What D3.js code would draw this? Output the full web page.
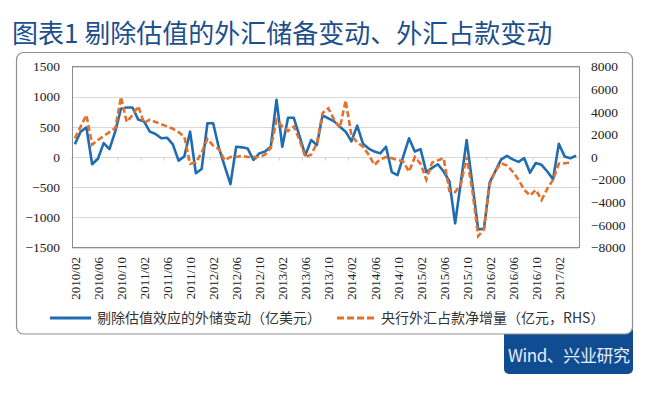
<!DOCTYPE html>
<html>
<head>
<meta charset="utf-8">
<script src="https://cdn.jsdelivr.net/npm/d3@7"></script>
<style>
  body { margin: 0; background: #fff; }
  svg { display: block; }
</style>
</head>
<body>
<div id="chartArea"></div>
<script>
// data, monthly from 2010/02
var titleText = "图表1 剔除估值的外汇储备变动、外汇占款变动";
var sourceText = "Wind、兴业研究";
var seriesNames = ["剔除估值效应的外储变动（亿美元）", "央行外汇占款净增量（亿元，RHS）"];

// 剔除估值效应的外储变动 (left axis, 亿美元)
var reserveChange = [
  210, 420, 490, -120, -30, 230, 130, 420, 800, 820,
  820, 620, 590, 420, 380, 310, 320, 210, -60, 10,
  420, -270, -200, 560, 560, 150, -150, -450, 170, 160,
  140, -50, 60, 90, 170, 950, 170, 650, 650, 340,
  30, 280, 200, 690, 640, 590, 500, 420, 260, 520,
  220, 140, 90, 60, 170, -250, -300, 10, 310, 90,
  130, -250, -180, -120, -240, -400, -1100, -410, 280, -450,
  -1200, -1190, -420, -230, -40, 20, -40, -80, -20, -260,
  -100, -130, -240, -370, 220, 10, -20, 20
];

// 央行外汇占款净增量 (right axis, 亿元)
var fxPurchase = [
  1650, 2700, 3700, 1100, 1500, 1850, 2200, 2550, 5300, 3100,
  3700, 4500, 3000, 3300, 3100, 2900, 2700, 2500, 2200, 1800,
  -600, -500, 400, 1600, 1000, 700, -300, 0, 0, 100,
  0, 0, 0, 200, 800, 3300, 2700, 2300, 2700, 1500,
  0, 200, 1200, 3900, 4300, 3300, 2600, 5000, 1900, 1300,
  900, 200, -700, -200, 0, -100, -250, -400, -1300, 0,
  -600, -2000, -500, -300, -100, -3000, -3100, -2400, 0, -3000,
  -7000, -6400, -2400, -1200, -550, -750, -1300, -2000, -2900, -3400,
  -2900, -3800, -2800, -2000, -600, -550, -500
];

var leftTicks = [-1500, -1000, -500, 0, 500, 1000, 1500];
var rightTicks = [-8000, -6000, -4000, -2000, 0, 2000, 4000, 6000, 8000];
var xTickLabels = ["2010/02", "2010/06", "2010/10", "2011/02", "2011/06", "2011/10",
  "2012/02", "2012/06", "2012/10", "2013/02", "2013/06", "2013/10", "2014/02",
  "2014/06", "2014/10", "2015/02", "2015/06", "2015/10", "2016/02", "2016/06",
  "2016/10", "2017/02"];

var fmt = d3.timeFormat("%Y/%m");
var months = d3.timeMonth.range(new Date(2010, 1, 1), new Date(2017, 5, 1)).map(fmt);

var W = 649, H = 394;
var plot = {left: 72, right: 579, top: 66.5, bottom: 247.5};
var blue = "#1f6cb0", orange = "#e4702c";
var serif = "Liberation Serif, Times New Roman, DejaVu Serif, serif";
var cjk = "Noto Sans CJK SC, sans-serif";

var svg = d3.select("#chartArea").append("svg")
    .attr("width", W)
    .attr("height", H);

var x = d3.scaleBand().domain(months).range([plot.left, plot.right]);
var xc = d => x(d) + x.bandwidth() / 2;
var yL = d3.scaleLinear().domain([-1500, 1500]).range([plot.bottom, plot.top]);
var yR = d3.scaleLinear().domain([-8000, 8000]).range([plot.bottom, plot.top]);

// title
svg.append("text")
    .attr("x", 12)
    .attr("y", 43)
    .attr("font-family", cjk)
    .attr("font-size", 26)
    .attr("fill", "#1d4f8c")
    .text(titleText);

// source box
svg.append("rect")
    .attr("x", 504).attr("y", 326)
    .attr("width", 129).attr("height", 48)
    .attr("rx", 5)
    .attr("fill", "#0f4c92");
svg.append("text")
    .attr("x", 569).attr("y", 356)
    .attr("dy", "0.35em")
    .attr("text-anchor", "middle")
    .attr("font-family", cjk)
    .attr("font-size", 17)
    .attr("textLength", 122)
    .attr("fill", "#e8eef7")
    .text(sourceText);

// outer frame
svg.append("rect")
    .attr("x", 16.5).attr("y", 52.5)
    .attr("width", 616).attr("height", 281.5)
    .attr("rx", 7)
    .attr("fill", "#fff")
    .attr("stroke", "#8f8f8f")
    .attr("stroke-width", 1.2);

// gridlines
svg.append("g").selectAll("line")
    .data(leftTicks)
    .enter().append("line")
    .attr("x1", plot.left).attr("x2", plot.right)
    .attr("y1", d => Math.round(yL(d)) + 0.5)
    .attr("y2", d => Math.round(yL(d)) + 0.5)
    .attr("stroke", "#d9d9d9")
    .attr("stroke-width", 1);

// small tick marks on the zero line every 4 months
svg.append("g").selectAll("line")
    .data(months.filter((d, i) => i % 4 == 0))
    .enter().append("line")
    .attr("x1", d => x(d)).attr("x2", d => x(d))
    .attr("y1", Math.round(yL(0)) + 0.5)
    .attr("y2", Math.round(yL(0)) + 3.5)
    .attr("stroke", "#d0d0d0");

// plot area border
svg.append("rect")
    .attr("x", plot.left + 0.5).attr("y", plot.top)
    .attr("width", plot.right - plot.left)
    .attr("height", plot.bottom - plot.top)
    .attr("fill", "none")
    .attr("stroke", "#8c8c8c")
    .attr("stroke-width", 1);

// axes
var leftAxis = svg.append("g")
    .attr("transform", "translate(" + (plot.left - 12) + ",0)")
    .call(d3.axisLeft(yL).tickValues(leftTicks).tickSize(0).tickPadding(0).tickFormat(d3.format("d")));
var rightAxis = svg.append("g")
    .attr("transform", "translate(" + (plot.right + 12) + ",0)")
    .call(d3.axisRight(yR).tickValues(rightTicks).tickSize(0).tickPadding(0).tickFormat(d3.format("d")));
[leftAxis, rightAxis].forEach(function (g) {
    g.attr("font-family", serif).attr("font-size", 13.5);
    g.select(".domain").remove();
    g.selectAll("text")
        .attr("font-family", serif)
        .attr("fill", "#222");
});

// x labels, rotated
svg.append("g").selectAll("text")
    .data(xTickLabels)
    .enter().append("text")
    .attr("transform", d => "translate(" + (xc(d) + 0.5) + ",257) rotate(-90)")
    .attr("dy", "0.35em")
    .attr("text-anchor", "end")
    .attr("font-family", serif)
    .attr("font-size", 13)
    .attr("fill", "#222")
    .text(d => d);

// lines
var blueLine = d3.line()
    .x((d, i) => xc(months[i]))
    .y(d => yL(d));
var orangeLine = d3.line()
    .x((d, i) => xc(months[i]))
    .y(d => yR(d));

svg.append("path")
    .datum(reserveChange)
    .attr("d", blueLine)
    .attr("fill", "none")
    .attr("stroke", blue)
    .attr("stroke-width", 2.6)
    .attr("stroke-linejoin", "round");

svg.append("path")
    .datum(fxPurchase)
    .attr("d", orangeLine)
    .attr("fill", "none")
    .attr("stroke", orange)
    .attr("stroke-width", 2.6)
    .attr("stroke-dasharray", "6,3");

// legend
var legend = svg.append("g");
legend.append("line")
    .attr("x1", 50).attr("x2", 91)
    .attr("y1", 318).attr("y2", 318)
    .attr("stroke", blue).attr("stroke-width", 3);
legend.append("text")
    .attr("x", 97).attr("y", 318)
    .attr("dy", "0.35em")
    .attr("font-family", cjk)
    .attr("font-size", 14)
    .attr("fill", "#333")
    .text(seriesNames[0]);
legend.append("line")
    .attr("x1", 337).attr("x2", 377)
    .attr("y1", 318).attr("y2", 318)
    .attr("stroke", orange).attr("stroke-width", 3)
    .attr("stroke-dasharray", "7,3");
legend.append("text")
    .attr("x", 381).attr("y", 318)
    .attr("dy", "0.35em")
    .attr("font-family", cjk)
    .attr("font-size", 14)
    .attr("fill", "#333")
    .text(seriesNames[1]);
</script>
</body>
</html>
